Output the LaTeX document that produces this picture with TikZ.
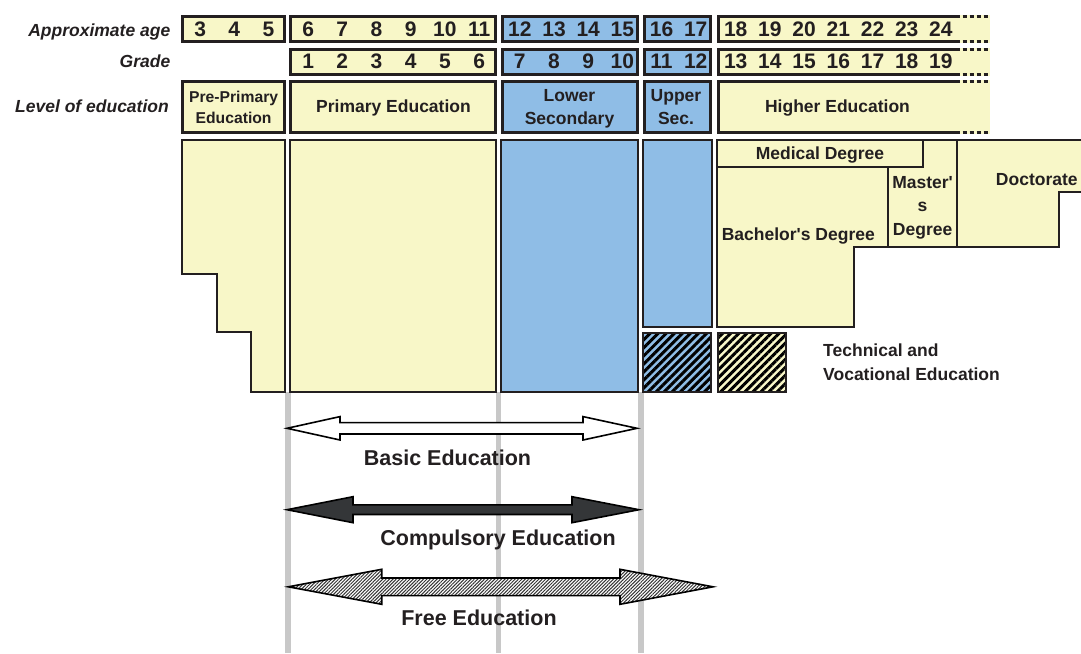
\documentclass[tikz,border=0pt]{standalone}
\usepackage{fontspec}
\setmainfont{Liberation Sans}
\usetikzlibrary{calc,patterns.meta,positioning}
\definecolor{cream}{RGB}{248,247,200}
\definecolor{skyblue}{RGB}{143,189,230}
\definecolor{ink}{RGB}{35,31,32}
\definecolor{rail}{RGB}{200,200,200}
\definecolor{coal}{RGB}{52,54,56}
\tikzset{
  topbox/.style={draw=ink,line width=3.2pt},
  lowbox/.style={draw=ink,line width=2.1pt},
  num/.style={font=\fontsize{21}{24}\selectfont\bfseries,text=ink,anchor=base,inner sep=0pt},
  rowlab/.style={font=\fontsize{17.5}{21}\selectfont\bfseries\itshape,text=ink,anchor=base east,inner sep=0pt},
  lab/.style={font=\fontsize{17.5}{22.5}\selectfont\bfseries,text=ink,inner sep=0pt,align=center},
  biglab/.style={font=\fontsize{21.5}{24}\selectfont\bfseries,text=ink,anchor=base,inner sep=0pt},
  stripes/.style={preaction={fill=#1},pattern={Lines[angle=45,distance=5.7pt,line width=3pt]},pattern color=black},
  blockarrow/.style={draw=black,line width=1.6pt,line join=miter},
  basic/.style={fill=white},
  compulsory/.style={fill=coal},
  free/.style={preaction={fill=white},pattern={Lines[angle=45,distance=2.4pt,line width=1pt]},pattern color=black!80},
}
\begin{document}
\begin{tikzpicture}[x=1pt,y=-1pt,line join=miter]
\useasboundingbox (0,0) rectangle (1081,653);
% grey guide rails
\foreach \x in {288,498.3,641}{\draw[rail,line width=5.3pt] (\x,392) -- (\x,653);}
% row titles
\node[rowlab] (agelab) at (170.5,36) {Approximate age};
\node[rowlab] (gradelab) at (170.5,67.7) {Grade};
\node[rowlab] (levellab) at (169,112.7) {Level of education};
% age row
\foreach \xl/\xr/\col/\ages in {182.7/284.5/cream/{3,4,5},290.7/495.5/cream/{6,7,8,9,10,11},502.4/637.2/skyblue/{12,13,14,15},644.1/710.7/skyblue/{16,17}}{
  \draw[topbox,fill=\col] (\xl,16.5) rectangle (\xr,41.8);
  \foreach \n [count=\k from 0] in \ages {\node[num] (age\n) at ({\xl+17.4+\k*34.2},36.7) {\n};}
}
% grade row
\foreach \xl/\xr/\col/\grades in {290.7/495.5/cream/{1,2,3,4,5,6},502.4/637.2/skyblue/{7,8,9,10},644.1/710.7/skyblue/{11,12}}{
  \draw[topbox,fill=\col] (\xl,49.8) rectangle (\xr,74.5);
  \foreach \n [count=\k from 0] in \grades {\node[num] (grade\n) at ({\xl+17.4+\k*34.2},68.5) {\n};}
}
% higher education rows, open to the right
\foreach \ya/\yb in {16.5/41.8,49.8/74.5,81.5/132.8}{
  \fill[cream] (716.7,\ya-1.6) rectangle (990,\yb+1.6);
  \draw[topbox] (955.5,\ya) -- (718.3,\ya) -- (718.3,\yb) -- (955.5,\yb);
  \draw[topbox,dash pattern=on 4pt off 3pt] (955.5,\ya) -- (990,\ya) (955.5,\yb) -- (990,\yb);
}
\foreach \n [count=\k from 0] in {18,19,20,21,22,23,24}{\node[num] (age\n) at ({735.7+\k*34.2},36.7) {\n};}
\foreach \n [count=\k from 0] in {13,14,15,16,17,18,19}{\node[num] (grade\n) at ({735.7+\k*34.2},68.5) {\n};}
% level row
\draw[topbox,fill=cream] (182.7,81.5) rectangle (284.5,132.8);
\draw[topbox,fill=cream] (290.7,81.5) rectangle (495.5,132.8);
\draw[topbox,fill=skyblue] (502.4,81.5) rectangle (637.2,132.8);
\draw[topbox,fill=skyblue] (644.1,81.5) rectangle (710.7,132.8);
\node[lab,font=\fontsize{15.7}{21}\selectfont\bfseries,anchor=north] (prepri) at (233.6,90.7) {Pre-Primary\\Education};
\node[lab,anchor=base] (primary) at (393.5,112.6) {Primary Education};
\node[lab,anchor=north] (lowsec) at (569.5,89.7) {Lower\\Secondary};
\node[lab,anchor=north] (uppsec) at (676,89.7) {Upper\\Sec.};
\node[lab,anchor=base] (higher) at (837.5,112.6) {Higher Education};
% school blocks
\draw[lowbox,fill=cream] (182,140) -- (285,140) -- (285,392) -- (251,392) -- (251,332) -- (217,332) -- (217,274) -- (182,274) -- cycle;
\draw[lowbox,fill=cream] (289.7,140) rectangle (496,392);
\draw[lowbox,fill=skyblue] (500.7,140) rectangle (638.3,392);
\draw[lowbox,fill=skyblue] (642.7,140) rectangle (712,326.7);
% technical and vocational
\draw[lowbox,stripes=skyblue] (643.3,333) rectangle (711.3,391.7);
\draw[lowbox,stripes=cream] (717.7,333) rectangle (785.7,391.7);
\node[lab,align=left,anchor=north west,font=\fontsize{17.5}{24}\selectfont\bfseries] (tve) at (823,343.5) {Technical and\\Vocational Education};
% degrees
\draw[lowbox,fill=cream] (717.3,140) rectangle (922.7,166.7);
\draw[lowbox,fill=cream] (717.3,166.7) -- (888.3,166.7) -- (888.3,246.7) -- (854,246.7) -- (854,326.7) -- (717.3,326.7) -- cycle;
\draw[lowbox,fill=cream] (888.3,166.7) -- (922.7,166.7) -- (922.7,140) -- (956.7,140) -- (956.7,246.7) -- (888.3,246.7) -- cycle;
\fill[cream] (956.7,140) -- (1090,140) -- (1090,192.3) -- (1059,192.3) -- (1059,246.7) -- (956.7,246.7) -- cycle;
\draw[lowbox] (1090,140) -- (956.7,140) -- (956.7,246.7) -- (1059,246.7) -- (1059,192.3) -- (1090,192.3);
\node[lab,anchor=base] (medical) at (820,159.3) {Medical Degree};
\node[lab,anchor=base] (bachelor) at (798.3,240) {Bachelor\textquotesingle s Degree};
\node[lab,anchor=north,font=\fontsize{17.5}{23.4}\selectfont\bfseries] (master) at (922.6,176) {Master\textquotesingle\\s\\Degree};
\node[lab,anchor=base] (doctor) at (1036.8,185.7) {Doctorate};
% span arrows
\foreach \xa/\xb/\y/\ha/\hb/\hw/\sw/\kind in {287/637/428.3/53/54/11.7/5.7/basic,287/639/509.7/66/67/13/4.8/compulsory,288.3/713/586.8/93.4/93/17.5/8.8/free}{
  \coordinate (\kind L) at (\xa,\y);
  \coordinate (\kind R) at (\xb,\y);
  \draw[blockarrow,\kind] (\kind L) -- ($(\kind L)+(\ha,-\hw)$) -- ($(\kind L)+(\ha,-\sw)$) -- ($(\kind R)+(-\hb,-\sw)$) -- ($(\kind R)+(-\hb,-\hw)$) -- (\kind R)
    -- ($(\kind R)+(-\hb,\hw)$) -- ($(\kind R)+(-\hb,\sw)$) -- ($(\kind L)+(\ha,\sw)$) -- ($(\kind L)+(\ha,\hw)$) -- cycle;
}
\node[biglab] (basiclab) at (447.5,465.7) {Basic Education};
\node[biglab] (complab) at (498,545.7) {Compulsory Education};
\node[biglab] (freelab) at (479,625.7) {Free Education};
\end{tikzpicture}
\end{document}
